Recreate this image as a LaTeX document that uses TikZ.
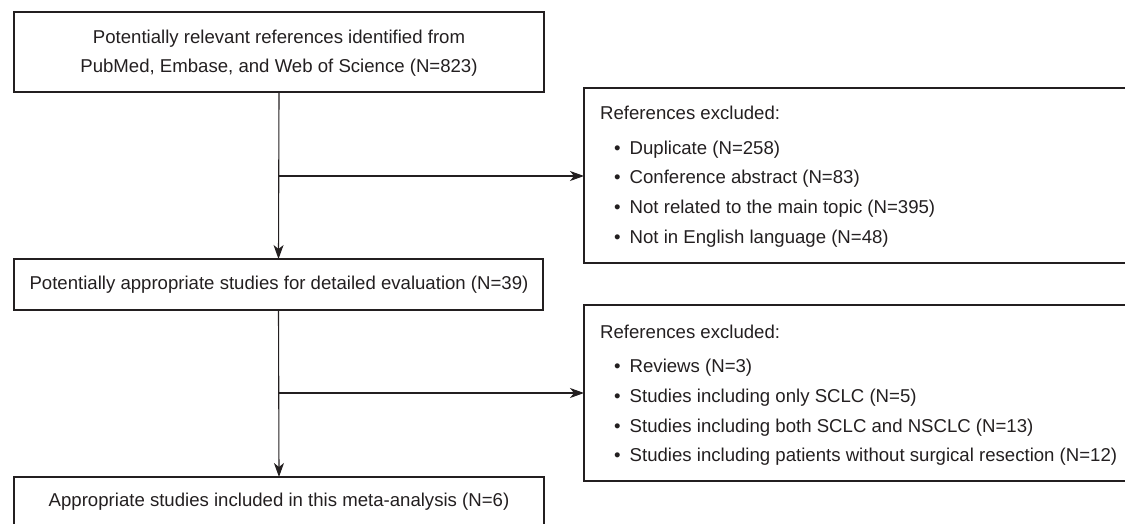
\documentclass[tikz,border=0pt]{standalone}
\usepackage{fontspec}
\setmainfont{Liberation Sans}
\usetikzlibrary{arrows.meta}
\definecolor{ink}{RGB}{35,31,32}
\begin{document}
\begin{tikzpicture}[x=1pt,y=-1pt,
  box/.style={draw=ink,line width=1.4pt,rectangle,anchor=north west,inner sep=0pt,outer sep=0pt},
  txt/.style={text=ink,font=\fontsize{18.6}{29}\selectfont,inner sep=0pt},
  flow/.style={draw=ink,line width=1.1pt,-{Stealth[length=14pt,width=10pt,inset=4pt]}},
  bul/.style={txt,anchor=west}]
\useasboundingbox (0,0) rectangle (1125,523);
\clip (0,0) rectangle (1125,523);
% boxes
\node[box,minimum width=530pt,minimum height=80pt] (b1) at (14,12) {};
\node[box,minimum width=529pt,minimum height=51pt] (b2) at (14,259) {};
\node[box,minimum width=530pt,minimum height=50pt] (b5) at (14,477) {};
\node[box,minimum width=560pt,minimum height=175pt] (b3) at (584,88) {};
\node[box,minimum width=560pt,minimum height=176pt] (b4) at (584,305) {};
% texts
\node[txt,align=center] (t1) at (279,53.5) {Potentially relevant references identified from\\PubMed, Embase, and Web of Science (N=823)};
\node[txt] (t2) at (279,285) {Potentially appropriate studies for detailed evaluation (N=39)};
\node[txt] (t5) at (279,502) {Appropriate studies included in this meta-analysis (N=6)};
\node[bul] (h3) at (600,113) {References excluded:};
\node[bul] (e1) at (614,150) {•\hspace{9pt}Duplicate (N=258)};
\node[bul] (e2) at (614,179) {•\hspace{9pt}Conference abstract (N=83)};
\node[bul] (e3) at (614,209) {•\hspace{9pt}Not related to the main topic (N=395)};
\node[bul] (e4) at (614,239) {•\hspace{9pt}Not in English language (N=48)};
\node[bul] (h4) at (600,332) {References excluded:};
\node[bul] (f1) at (614,368) {•\hspace{9pt}Reviews (N=3)};
\node[bul] (f2) at (614,398) {•\hspace{9pt}Studies including only SCLC (N=5)};
\node[bul] (f3) at (614,428) {•\hspace{9pt}Studies including both SCLC and NSCLC (N=13)};
\node[bul] (f4) at (614,457) {•\hspace{9pt}Studies including patients without surgical resection (N=12)};
% connectors
\draw[flow] (b1.south) -- (b2.north);
\coordinate (j1) at (b1.south |- 0,176);
\draw[flow] (j1) -- (j1 -| b3.west);
\draw[flow] (b2.south) -- (b5.north);
\coordinate (j2) at (b2.south |- 0,393);
\draw[flow] (j2) -- (j2 -| b4.west);
\end{tikzpicture}
\end{document}
